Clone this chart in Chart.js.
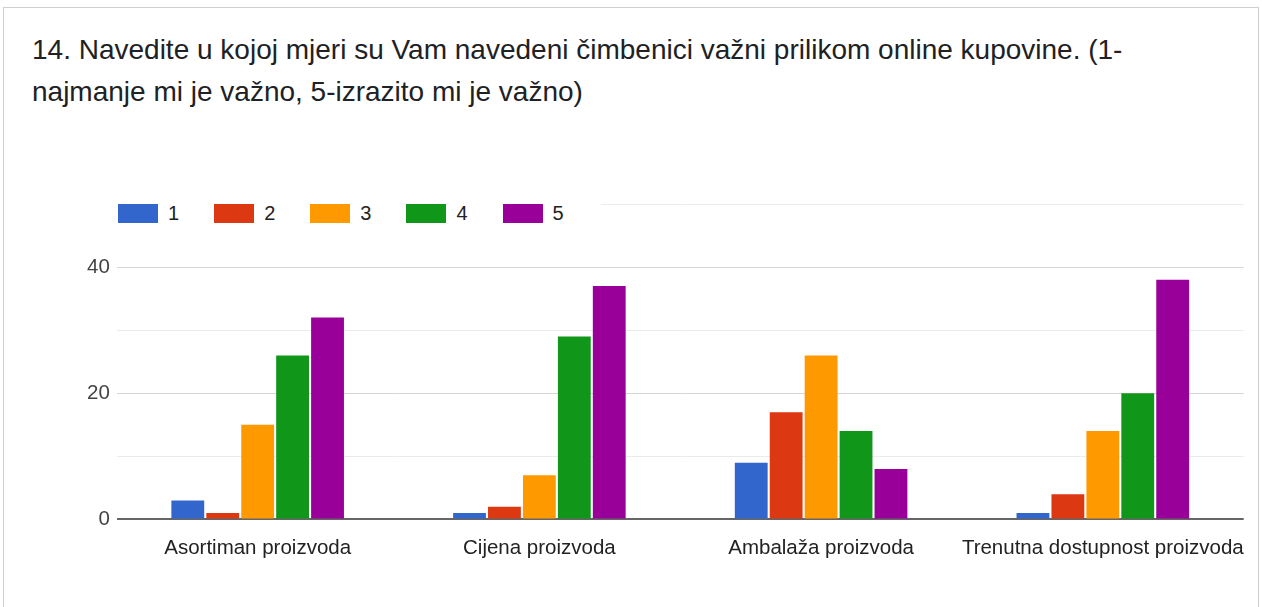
<!DOCTYPE html>
<html>
<head>
<meta charset="utf-8">
<title>14. Navedite u kojoj mjeri su Vam navedeni čimbenici važni</title>
<script src="https://cdn.jsdelivr.net/npm/chart.js@4"></script>
<style>
  html, body { margin: 0; padding: 0; background: #fff; }
  body { width: 1262px; height: 607px; position: relative; overflow: hidden; }
  .card {
    position: absolute; left: 3px; top: 7px; width: 1256px; height: 640px;
    border: 1px solid #cfcfcf; box-sizing: border-box;
  }
  .title {
    position: absolute; left: 32px; top: 29px;
    font-family: "Liberation Sans", Arial, sans-serif; font-size: 28px; line-height: 42px;
    color: #202124; white-space: nowrap;
  }
  .chartBox { position: absolute; left: 0; top: 176px; width: 1262px; height: 426px; }
  #legend {
    position: absolute; left: 112px; top: 200px; height: 27px; padding: 0 2px 0 6px;
    background: #fff; display: flex; align-items: center;
    font-family: "Liberation Sans", Arial, sans-serif; font-size: 20px; color: #222;
  }
  #legend .item { display: flex; align-items: center; margin-right: 35px; }
  #legend .box { width: 40px; height: 19px; margin-right: 10px; }
</style>
</head>
<body>
<div class="card"></div>
<div class="title">14. Navedite u kojoj mjeri su Vam navedeni čimbenici važni prilikom online kupovine. (1-<br>najmanje mi je važno, 5-izrazito mi je važno)</div>
<div class="chartBox"><canvas id="chart"></canvas></div>
<div id="legend"></div>
<script>
// categories and answers (number of respondents per rating)
const categories = ['Asortiman proizvoda', 'Cijena proizvoda', 'Ambalaža proizvoda', 'Trenutna dostupnost proizvoda'];
const ratings = ['1', '2', '3', '4', '5'];
const rating1 = [3, 1, 9, 1];
const rating2 = [1, 2, 17, 4];
const rating3 = [15, 7, 26, 14];
const rating4 = [26, 29, 14, 20];
const rating5 = [32, 37, 8, 38];
const yTickLabels = [0, 20, 40];
const colors = ['#3366cc', '#dc3912', '#ff9900', '#109618', '#990099'];

const series = [rating1, rating2, rating3, rating4, rating5];
const font = { family: '"Liberation Sans", Arial, sans-serif', size: 20.5 };

const ctx = document.getElementById('chart').getContext('2d');
const chart = new Chart(ctx, {
    type: 'bar',
    data: {
        labels: categories,
        datasets: series.map((vals, i) => ({
            label: ratings[i],
            data: vals,
            backgroundColor: colors[i],
            borderWidth: 0,
            categoryPercentage: 0.62,
            barPercentage: 0.94
        }))
    },
    options: {
        responsive: true,
        maintainAspectRatio: false,
        animation: false,
        layout: { padding: { left: 80, right: 10, top: 28, bottom: 24 } },
        plugins: {
            legend: { display: false },
            tooltip: { enabled: false }
        },
        scales: {
            x: {
                grid: { display: false, drawTicks: false },
                border: { display: false },
                ticks: { font: font, color: '#222', padding: 17, maxRotation: 0, autoSkip: false }
            },
            y: {
                min: 0,
                max: 50,
                border: { display: false },
                grid: {
                    drawTicks: false,
                    color: c => c.tick.value === 0 ? '#666' : (yTickLabels.includes(c.tick.value) ? '#d6d6d6' : '#ebebeb'),
                    lineWidth: c => c.tick.value === 0 ? 2 : 1
                },
                ticks: {
                    stepSize: 10,
                    padding: 7,
                    font: font,
                    color: '#444',
                    callback: v => yTickLabels.includes(v) ? v : ''
                }
            }
        }
    }
});

// legend
const legend = document.getElementById('legend');
chart.data.datasets.forEach(ds => {
    const item = document.createElement('div');
    item.className = 'item';
    const box = document.createElement('span');
    box.className = 'box';
    box.style.background = ds.backgroundColor;
    item.appendChild(box);
    item.appendChild(document.createTextNode(ds.label));
    legend.appendChild(item);
});
</script>
</body>
</html>
